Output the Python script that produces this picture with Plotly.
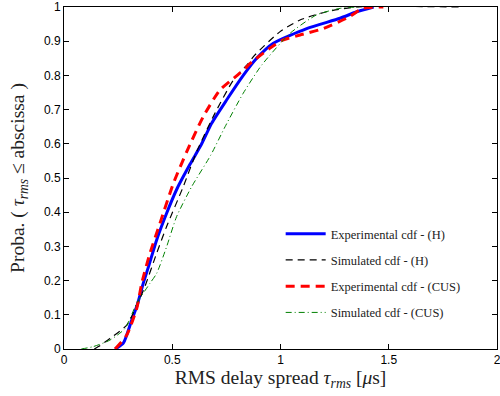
import plotly.graph_objects as go

# Experimental cdf - (H)
exp_h_x = [0.236, 0.274, 0.313, 0.336, 0.366, 0.39, 0.428, 0.474, 0.523, 0.582, 0.636, 0.682, 0.751, 0.828, 0.89, 0.967, 1.121, 1.275, 1.352, 1.43]
exp_h_y = [0.0, 0.017, 0.085, 0.124, 0.192, 0.24, 0.319, 0.397, 0.47, 0.54, 0.60, 0.66, 0.728, 0.80, 0.85, 0.894, 0.937, 0.967, 0.986, 1.0]

# Simulated cdf - (H)
sim_h_x = [0.14, 0.159, 0.212, 0.29, 0.351, 0.374, 0.428, 0.474, 0.551, 0.613, 0.697, 0.782, 0.851, 0.882, 0.998, 1.09, 1.213, 1.35, 1.84]
sim_h_y = [0.0, 0.007, 0.031, 0.07, 0.148, 0.183, 0.28, 0.358, 0.475, 0.577, 0.689, 0.786, 0.835, 0.86, 0.928, 0.962, 0.986, 1.0, 1.0]

# Experimental cdf - (CUS)
exp_c_x = [0.236, 0.29, 0.336, 0.359, 0.397, 0.443, 0.505, 0.567, 0.643, 0.72, 0.80, 0.836, 0.86, 0.95, 1.01, 1.09, 1.198, 1.32, 1.38, 1.475]
exp_c_y = [0.0, 0.041, 0.119, 0.192, 0.28, 0.367, 0.484, 0.577, 0.679, 0.757, 0.80, 0.82, 0.835, 0.879, 0.903, 0.918, 0.937, 0.972, 0.996, 1.0]

# Simulated cdf - (CUS)
sim_c_x = [0.08, 0.135, 0.212, 0.282, 0.336, 0.397, 0.428, 0.474, 0.52, 0.59, 0.678, 0.744, 0.828, 0.913, 1.044, 1.167, 1.275, 1.36]
sim_c_y = [0.0, 0.007, 0.026, 0.06, 0.134, 0.192, 0.221, 0.299, 0.387, 0.475, 0.567, 0.65, 0.748, 0.83, 0.923, 0.977, 0.996, 1.0]

x_ticks = [0, 0.5, 1, 1.5, 2]
x_tick_labels = ["0", "0.5", "1", "1.5", "2"]
y_ticks = [0, 0.1, 0.2, 0.3, 0.4, 0.5, 0.6, 0.7, 0.8, 0.9, 1]
y_tick_labels = ["0", "0.1", "0.2", "0.3", "0.4", "0.5", "0.6", "0.7", "0.8", "0.9", "1"]

fig = go.Figure()
fig.add_trace(go.Scatter(x=exp_h_x, y=exp_h_y, mode="lines", name="Experimental cdf - (H)",
                         legendgroup="a", line=dict(color="#0000ff", width=3, shape="spline", smoothing=0.6)))
fig.add_trace(go.Scatter(x=sim_h_x, y=sim_h_y, mode="lines", name="Simulated cdf - (H)",
                         legendgroup="b", line=dict(color="#000000", width=1.2, dash="7px,5px", shape="spline", smoothing=0.6)))
fig.add_trace(go.Scatter(x=exp_c_x, y=exp_c_y, mode="lines", name="Experimental cdf - (CUS)",
                         legendgroup="c", line=dict(color="#ff0000", width=3, dash="9px,6px", shape="spline", smoothing=0.6)))
fig.add_trace(go.Scatter(x=sim_c_x, y=sim_c_y, mode="lines", name="Simulated cdf - (CUS)",
                         legendgroup="d", line=dict(color="#008000", width=1, dash="6px,3px,1px,3px", shape="spline", smoothing=0.6)))

axis_common = dict(showline=True, linecolor="black", linewidth=1, mirror="ticks",
                   ticks="inside", ticklen=5, tickcolor="black", showgrid=False, zeroline=False,
                   automargin=False, ticklabeloverflow="allow",
                   tickfont=dict(family="Liberation Sans, Arial", size=12, color="black"))

fig.update_xaxes(range=[0, 2], tickvals=x_ticks, ticktext=x_tick_labels,
                 title=dict(text="RMS delay spread <i>τ<sub>rms</sub></i> [<i>μ</i>s]",
                            font=dict(family="Liberation Serif, serif", size=19.5, color="#222"), standoff=2),
                 **axis_common)
fig.update_yaxes(range=[0, 1], tickvals=y_ticks, ticktext=y_tick_labels,
                 title=dict(text="Proba. ( <i>τ<sub>rms</sub></i> ≤ abscissa )",
                            font=dict(family="Liberation Serif, serif", size=19.5, color="#222"), standoff=14),
                 **axis_common)

fig.update_layout(
    width=500, height=396,
    margin=dict(l=64, r=3, t=7, b=47),
    paper_bgcolor="white", plot_bgcolor="white",
    legend=dict(x=0.5004, y=0.38, xanchor="left", yanchor="top", bgcolor="rgba(0,0,0,0)",
                font=dict(family="Liberation Serif, serif", size=12.5, color="#222"),
                tracegroupgap=7, itemwidth=40, traceorder="grouped"),
)

fig.write_html("out.html")
